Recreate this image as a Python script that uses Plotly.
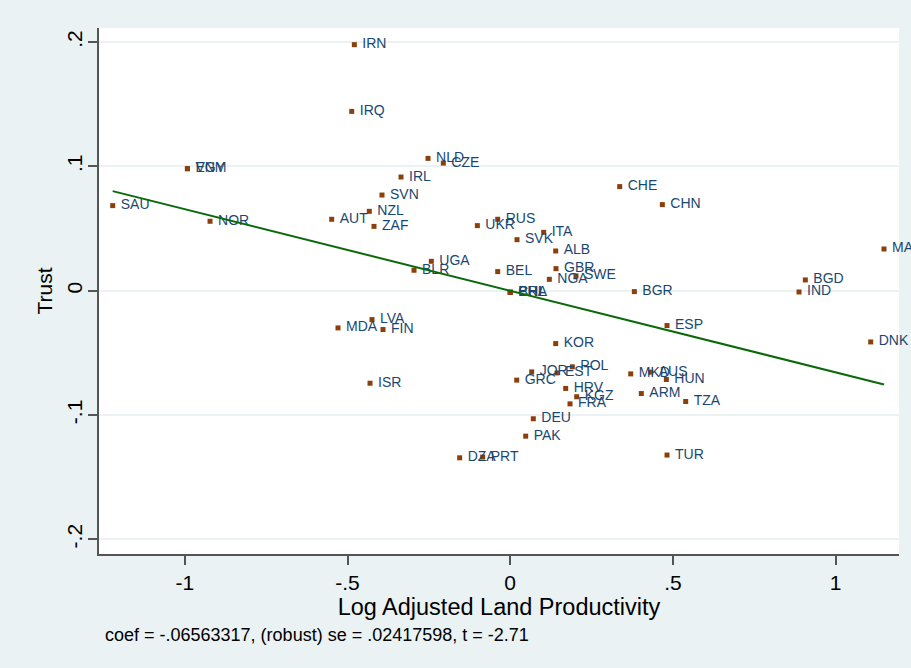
import plotly.graph_objects as go

# Added-variable plot: Trust vs. log adjusted land productivity (residuals)
countries = ["IRN", "IRQ", "EGY", "VNM", "SAU", "NOR", "AUT", "NZL", "ZAF", "SVN",
             "IRL", "NLD", "CZE", "RUS", "UKR", "ITA", "SVK", "ALB", "UGA", "BLR",
             "BEL", "GBR", "SWE", "NGA", "BRA", "CHL", "PHL", "BGR", "KOR", "POL",
             "JOR", "EST", "GRC", "HRV", "KGZ", "FRA", "MKD", "AUS", "HUN", "ARM",
             "TZA", "DEU", "PAK", "DZA", "PRT", "TUR", "CHE", "CHN", "MAR", "BGD",
             "IND", "ESP", "DNK", "LVA", "MDA", "FIN", "ISR"]

land_productivity = [-0.479, -0.487, -0.992, -0.992, -1.2216, -0.9225, -0.5486, -0.433, -0.4186, -0.394,
                     -0.3356, -0.2526, -0.2056, -0.0384, -0.101, 0.1029, 0.0209, 0.1398, -0.2424, -0.2956,
                     -0.0384, 0.1407, 0.2022, 0.1202, 0.0, 0.0, 0.0, 0.3815, 0.1398, 0.1909,
                     0.066, 0.1438, 0.02, 0.1705, 0.2043, 0.1838, 0.3703, 0.4318, 0.4798, 0.4029,
                     0.5393, 0.071, 0.0476, -0.1553, -0.0845, 0.4819, 0.3365, 0.4675, 1.1487, 0.9069,
                     0.8875, 0.4819, 1.1078, -0.4247, -0.5292, -0.3909, -0.4308]

trust = [0.198, 0.1443, 0.0982, 0.0982, 0.0685, 0.0559, 0.0575, 0.0639, 0.0518, 0.077,
         0.0915, 0.1065, 0.1027, 0.0575, 0.0524, 0.047, 0.0411, 0.032, 0.0237, 0.0165,
         0.0154, 0.0178, 0.0119, 0.0092, -0.0012, -0.0012, -0.0012, -0.0007, -0.0425, -0.0612,
         -0.0653, -0.0661, -0.0719, -0.0786, -0.0853, -0.091, -0.0669, -0.0655, -0.0714, -0.0827,
         -0.0891, -0.103, -0.117, -0.1344, -0.1338, -0.1322, 0.0838, 0.0693, 0.0336, 0.0087,
         -0.001, -0.028, -0.0412, -0.0232, -0.0299, -0.0312, -0.0744]

coef = -0.06563317
robust_se = 0.02417598
t_stat = -2.71

x_ticks = [-1, -0.5, 0, 0.5, 1]
x_tick_labels = ["-1", "-.5", "0", ".5", "1"]
y_ticks = [-0.2, -0.1, 0, 0.1, 0.2]
y_tick_labels = ["-.2", "-.1", "0", ".1", ".2"]

FONT = "Liberation Sans, Arial, sans-serif"
BG = "#EAF2F3"


def stata_num(v, digits):
    """Format a number without the leading zero, as Stata prints it."""
    s = f"{v:.{digits}f}"
    if s.startswith("-0."):
        return "-" + s[2:]
    if s.startswith("0."):
        return s[1:]
    return s


x_lo, x_hi = min(land_productivity), max(land_productivity)
fit_x = [x_lo, x_hi]
fit_y = [coef * v for v in fit_x]

fig = go.Figure()

fig.add_trace(go.Scatter(
    x=land_productivity, y=trust, mode="markers+text",
    text=["\u00a0" + c for c in countries], textposition="middle right",
    textfont=dict(family=FONT, size=14, color="#1A476F"),
    marker=dict(symbol="square", size=5, color="#8B3F0A"),
    cliponaxis=False, hoverinfo="text", showlegend=False,
))

fig.add_trace(go.Scatter(
    x=fit_x, y=fit_y, mode="lines",
    line=dict(color="#0A6A0A", width=2),
    hoverinfo="skip", showlegend=False,
))

note = (f"coef = {stata_num(coef, 8)}, (robust) se = {stata_num(robust_se, 8)}, "
        f"t = {stata_num(t_stat, 2)}")

fig.update_layout(
    width=911, height=668,
    paper_bgcolor=BG, plot_bgcolor="white",
    margin=dict(l=99, r=12, t=28, b=114),
    font=dict(family=FONT, color="black"),
    xaxis=dict(
        range=[-1.2637, 1.1948], tickvals=x_ticks, ticktext=x_tick_labels,
        showgrid=False, zeroline=False, showline=True, linecolor="#555555", linewidth=1.5,
        ticks="outside", ticklen=9, tickcolor="#555555", tickwidth=1.5,
        tickfont=dict(size=21, family=FONT, color="black"),
        title=dict(text="Log Adjusted Land Productivity", font=dict(size=23.5, family=FONT, color="black"), standoff=1),
    ),
    yaxis=dict(
        range=[-0.2118, 0.2114], tickvals=y_ticks, ticktext=y_tick_labels, tickangle=-90,
        showgrid=True, gridcolor=BG, gridwidth=2, zeroline=False,
        showline=True, linecolor="#555555", linewidth=1.5,
        ticks="outside", ticklen=9, tickcolor="#555555", tickwidth=1.5,
        ticklabelstandoff=-2,
        tickfont=dict(size=21, family=FONT, color="black"),
        title=dict(text="Trust", font=dict(size=21, family=FONT, color="black"), standoff=4),
    ),
    annotations=[dict(
        text=note,
        xref="paper", yref="paper", x=0.005, y=-0.154, xanchor="left", yanchor="middle",
        showarrow=False, font=dict(size=18, family=FONT, color="black"),
    )],
)

fig.write_html("out.html")
